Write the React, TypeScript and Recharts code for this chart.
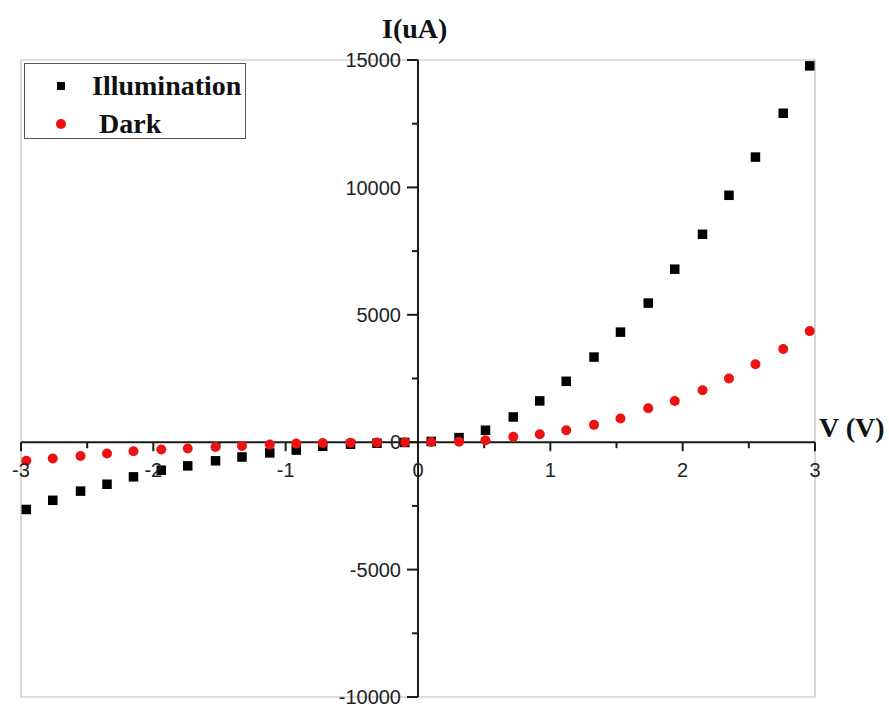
import {
  ScatterChart,
  Scatter,
  XAxis,
  YAxis,
  ReferenceLine,
  ReferenceDot,
  ReferenceArea,
} from "recharts"

// bias voltage (V) for each measured point
const volts = [
  -2.96, -2.76, -2.55, -2.35, -2.15, -1.94, -1.74, -1.53, -1.33, -1.12, -0.92,
  -0.72, -0.51, -0.31, -0.1, 0.1, 0.31, 0.51, 0.72, 0.92, 1.12, 1.33, 1.53,
  1.74, 1.94, 2.15, 2.35, 2.55, 2.76, 2.96,
]

// current (uA) under illumination
const illumination = [
  -2640, -2280, -1920, -1650, -1360, -1100, -930, -730, -580, -420, -310, -160,
  -80, -40, -10, 30, 180, 470, 990, 1620, 2390, 3340, 4320, 5460, 6790, 8160,
  9690, 11190, 12910, 14770,
]

// current (uA) in the dark
const dark = [
  -730, -640, -540, -445, -355, -290, -250, -185, -145, -95, -55, -30, -20, -10,
  0, 10, 20, 80, 210, 310, 470, 680, 930, 1330, 1620, 2040, 2500, 3060, 3660,
  4360,
]

const xMajor = [-3, -2, -1, 0, 1, 2, 3]
const xMinor = [-2.5, -1.5, -0.5, 0.5, 1.5, 2.5]
const yMajor = [15000, 10000, 5000, 0, -5000, -10000]
const yMinor = [12500, 7500, 2500, -2500, -7500]

const seriesNames = ["Illumination", "Dark"]

const illumData = volts.map((v, i) => ({ v, i: illumination[i] }))
const darkData = volts.map((v, i) => ({ v, i: dark[i] }))

const tickFont = {
  fontSize: 20,
  fontFamily: "Liberation Sans, Arial, sans-serif",
  fill: "#222",
}
const axisColor = "#1a1a1a"

const SquareDot = (props: any) => {
  const { cx, cy } = props
  return <rect x={cx - 4.75} y={cy - 4.75} width={9.5} height={9.5} fill="#000" />
}

const RedDot = (props: any) => {
  const { cx, cy } = props
  return <circle cx={cx} cy={cy} r={5} fill="#ee1111" />
}

// tick marks hang off the crossing axes
const xTick = (len: number) => (p: any) =>
  <line x1={p.cx} y1={p.cy} x2={p.cx} y2={p.cy + len} stroke={axisColor} strokeWidth={2} />
const yTick = (len: number) => (p: any) =>
  <line x1={p.cx} y1={p.cy} x2={p.cx - len} y2={p.cy} stroke={axisColor} strokeWidth={2} />

const titleStyle: React.CSSProperties = {
  position: "absolute",
  fontFamily: "Liberation Serif, Times New Roman, serif",
  fontWeight: "bold",
  fontSize: 28,
  lineHeight: "28px",
  color: "#111",
  whiteSpace: "nowrap",
}

const legendText: React.CSSProperties = {
  position: "absolute",
  fontFamily: "Liberation Serif, Times New Roman, serif",
  fontWeight: "bold",
  fontSize: 28,
  lineHeight: "28px",
  color: "#111",
  whiteSpace: "nowrap",
}

export default function App() {
  return (
    <div style={{ position: "relative", width: 881, height: 697 }}>
      {/* no bottom margin, so the page does not grow a scrollbar */}
      <style>{"body{margin:8px 0 0 8px} html,body{overflow:hidden}"}</style>
      <ScatterChart
        width={881}
        height={697}
        margin={{ top: 52, right: 74, bottom: 8, left: 13 }}
      >
        <XAxis type="number" dataKey="v" domain={[-3, 3]} hide allowDataOverflow />
        <YAxis
          type="number"
          dataKey="i"
          domain={[-10000, 15000]}
          hide
          allowDataOverflow
        />
        {/* light grey frame round the plot */}
        <ReferenceArea
          x1={-3}
          x2={3}
          y1={-10000}
          y2={15000}
          fill="none"
          stroke="#bdbdbd"
          strokeWidth={1.2}
          fillOpacity={0}
        />
        {/* axes crossing at the origin */}
        <ReferenceLine y={0} stroke={axisColor} strokeWidth={2} />
        <ReferenceLine x={0} stroke={axisColor} strokeWidth={2} />
        {xMajor.map((t) => (
          <ReferenceDot key={"xM" + t} x={t} y={0} r={1} ifOverflow="visible" shape={xTick(9)} />
        ))}
        {xMinor.map((t) => (
          <ReferenceDot key={"xm" + t} x={t} y={0} r={1} ifOverflow="visible" shape={xTick(6)} />
        ))}
        {yMajor.map((t) => (
          <ReferenceDot key={"yM" + t} x={0} y={t} r={1} ifOverflow="visible" shape={yTick(11)} />
        ))}
        {yMinor.map((t) => (
          <ReferenceDot key={"ym" + t} x={0} y={t} r={1} ifOverflow="visible" shape={yTick(6)} />
        ))}
        {xMajor.map((t) => (
          <ReferenceDot
            key={"xl" + t}
            x={t}
            y={0}
            r={0}
            fill="none"
            stroke="none"
            ifOverflow="visible"
            label={{ value: String(t), position: "bottom", offset: 21, ...tickFont }}
          />
        ))}
        {yMajor.map((t) => (
          <ReferenceDot
            key={"yl" + t}
            x={0}
            y={t}
            r={0}
            fill="none"
            stroke="none"
            ifOverflow="visible"
            label={{ value: String(t), position: "left", offset: 17, ...tickFont }}
          />
        ))}
        <Scatter
          name={seriesNames[0]}
          data={illumData}
          shape={SquareDot}
          isAnimationActive={false}
        />
        <Scatter
          name={seriesNames[1]}
          data={darkData}
          shape={RedDot}
          isAnimationActive={false}
        />
      </ScatterChart>
      <div style={{ ...titleStyle, left: 374, top: 7 }}>I(uA)</div>
      <div style={{ ...titleStyle, left: 811, top: 406 }}>V (V)</div>
      {/* legend box */}
      <div
        style={{
          position: "absolute",
          left: 16,
          top: 55,
          width: 222,
          height: 76,
          boxSizing: "border-box",
          border: "1px solid #555",
          background: "#fff",
        }}
      >
        <span
          style={{ position: "absolute", left: 32, top: 18, width: 8, height: 8, background: "#000" }}
        />
        <span style={{ ...legendText, left: 67, top: 8 }}>{seriesNames[0]}</span>
        <span
          style={{
            position: "absolute",
            left: 31,
            top: 55,
            width: 10,
            height: 10,
            borderRadius: 5,
            background: "#ee1111",
          }}
        />
        <span style={{ ...legendText, left: 74, top: 46 }}>{seriesNames[1]}</span>
      </div>
    </div>
  )
}
